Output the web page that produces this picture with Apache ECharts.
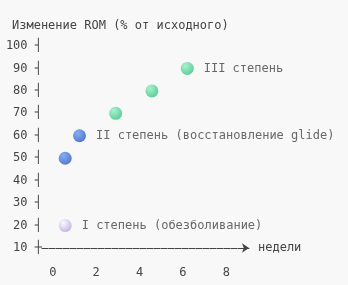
<!DOCTYPE html>
<html><head><meta charset="utf-8">
<script src="https://cdn.jsdelivr.net/npm/echarts@6/dist/echarts.min.js"></script>
<style>html,body{margin:0;padding:0;background:#f8f8f8}#c{width:348px;height:285px}</style>
</head><body><div id="c"></div>
<script>
const titleText = 'Изменение ROM (% от исходного)';
const xName = 'недели';
const xTicks = [0, 2, 4, 6, 8];
const yTicks = [10, 20, 30, 40, 50, 60, 70, 80, 90, 100];
const stage1 = [[0.57, 20]];
const stage2 = [[0.57, 50], [1.23, 60]];
const stage3 = [[2.9, 70], [4.57, 80], [6.2, 90]];
const stage1Label = 'I степень (обезболивание)';
const stage2Label = 'II степень (восстановление glide)';
const stage3Label = 'III степень';

const FONT = '"DejaVu Sans Mono", monospace';
function grad(c0, c1) {
  return {type: 'radial', x: 0.35, y: 0.3, r: 0.75,
    colorStops: [{offset: 0, color: c0}, {offset: 1, color: c1}]};
}
function mkSeries(data, labelText, labelIdx, color) {
  return {
    type: 'scatter', symbolSize: 13,
    itemStyle: {color: color},
    data: data.map((d, i) => ({
      value: d,
      label: {show: i === labelIdx, formatter: labelText, position: 'right', distance: 10,
        color: '#444', fontFamily: FONT, fontSize: 12}
    }))
  };
}
const chart = echarts.init(document.getElementById('c'));
chart.setOption({
  backgroundColor: '#f8f8f8',
  animation: false,
  title: {text: titleText, left: 7, top: 15,
    textStyle: {fontFamily: FONT, fontSize: 12, fontWeight: 'normal', color: '#444'}},
  grid: {left: 42, right: 99, top: 46, bottom: 37},
  xAxis: {
    type: 'value', min: -0.5, max: 9.05,
    name: xName, nameLocation: 'end', nameGap: 9,
    nameTextStyle: {fontFamily: FONT, fontSize: 12, color: '#444'},
    axisLine: {show: true, symbol: ['none', 'arrow'], symbolSize: [7, 7], symbolOffset: [0, 0],
      lineStyle: {color: '#444', width: 1, type: [6, 1]}},
    axisTick: {show: false},
    splitLine: {show: false},
    axisLabel: {customValues: xTicks, margin: 19, fontFamily: FONT, fontSize: 12, color: '#444'}
  },
  yAxis: {
    type: 'value', min: yTicks[0], max: yTicks[yTicks.length - 1], interval: 10,
    axisLine: {show: false}, axisTick: {show: false}, splitLine: {show: false},
    axisLabel: {margin: 0, fontFamily: FONT, fontSize: 12, color: '#444',
      formatter: v => v === yTicks[0] ? v + ' ┼' : v + ' ┤'}
  },
  series: [
    mkSeries(stage1, stage1Label, 0, grad('#fbf9ff', '#b9a2de')),
    mkSeries(stage2, stage2Label, 1, grad('#6a9bf0', '#2a58c0')),
    mkSeries(stage3, stage3Label, 2, grad('#94f0c4', '#34c27f'))
  ]
});
</script></body></html>
